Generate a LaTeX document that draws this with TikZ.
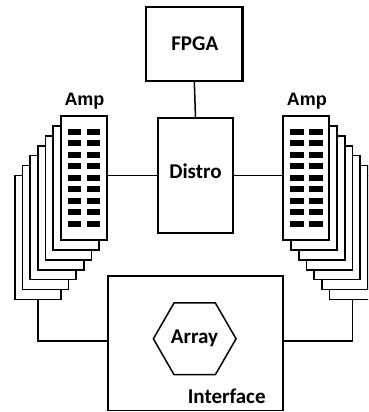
\documentclass[tikz,border=0pt]{standalone}
\usepackage{fontspec}
\setmainfont{Carlito}
\newfontfamily\ampfont{Liberation Sans}
\usetikzlibrary{shapes.geometric,calc}
\begin{document}
\begin{tikzpicture}[x=1pt,y=-1pt,
  bigbox/.style={draw,line width=2.6pt,fill=white,inner sep=0pt,outer sep=0pt},
  ampbox/.style={draw,line width=1.7pt,fill=white,minimum width=46pt,minimum height=124pt,inner sep=0pt,outer sep=0pt},
  wire/.style={line width=1.5pt},
  lbl/.style={font=\bfseries\fontsize{21}{24}\selectfont,inner sep=0pt},
  amplbl/.style={font=\ampfont\bfseries\fontsize{18}{20}\selectfont,inner sep=0pt,anchor=base},
  chip/.style={fill=black}]
\useasboundingbox (0,0) rectangle (368,412);
\clip (0,0) rectangle (368,412);
% stacks, back to front
\foreach \k in {6,5,...,0}{
  \node[ampbox] (L\k) at ({84-7.7*\k},{178+9.9*\k}) {};
  \node[ampbox] (R\k) at ({306.3+7.7*\k},{178+9.9*\k}) {};
}
% chips on front boards
\foreach \b in {L0,R0}{
  \foreach \r in {0,...,8}{
    \fill[chip] ([shift={(7,{12.7+11.5*\r})}]\b.north west) rectangle ++(13.2,6);
    \fill[chip] ([shift={(26,{12.7+11.5*\r})}]\b.north west) rectangle ++(13.2,6);
  }
}
\node[amplbl] (ampL) at (84.5,105) {Amp};
\node[amplbl] (ampR) at (306.8,105) {Amp};
% main blocks
\node[bigbox,minimum width=96.7pt,minimum height=74pt] (F) at (194.3,44) {};
\node[lbl] (Ft) at (194.8,43.5) {FPGA};
\node[bigbox,minimum width=75pt,minimum height=115pt] (D) at (195.5,175.5) {};
\node[lbl] (Dt) at (195.5,171.5) {Distro};
\node[draw,line width=1.9pt,fill=white,inner sep=0pt,outer sep=0pt,minimum width=175pt,minimum height=134.8pt] (I) at (195.2,343.1) {};
\node[draw,line width=1.5pt,regular polygon,regular polygon sides=6,minimum size=82.7pt,inner sep=0pt,outer sep=0pt] (A) at (194.7,338.8) {};
\node[lbl] (At) at (194.5,338) {Array};
\node[lbl] (It) at (226.7,396.7) {Interface};
% connectors
\coordinate (IL) at (I.west |- 0,341);
\coordinate (IR) at (I.east |- 0,341);
\draw[wire] (F.south) -- (D.north);
\draw[wire] (L0.east |- D.west) -- (D.west);
\draw[wire] (D.east) -- (R0.west |- D.east);
\draw[wire] (L6.south) |- (IL);
\draw[wire] (R6.south) |- (IR);
\end{tikzpicture}
\end{document}
